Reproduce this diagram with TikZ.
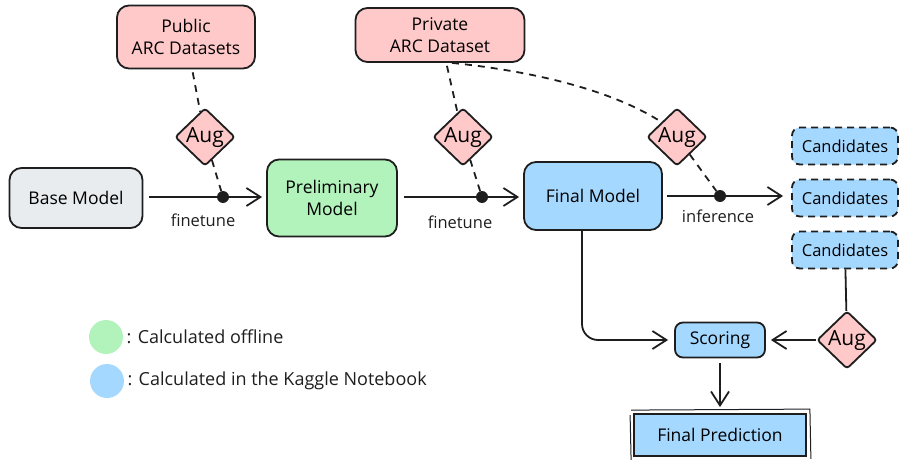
\documentclass[tikz,border=0pt]{standalone}
\usepackage{fontspec}
\setmainfont{Open Sans}
\usetikzlibrary{shapes.geometric,arrows.meta,calc}
\definecolor{ink}{HTML}{1E1E1E}
\definecolor{pinkf}{HTML}{FFC9C9}
\definecolor{greenf}{HTML}{B2F2BB}
\definecolor{bluef}{HTML}{A5D8FF}
\definecolor{grayf}{HTML}{E9ECEF}
\begin{document}
\begin{tikzpicture}[x=1pt,y=-1pt,
  box/.style={draw=ink, line width=1.8pt, rounded corners=12pt, align=center,
    font=\fontsize{17.5}{22}\selectfont, inner sep=0pt},
  candbox/.style={box, dashed, dash pattern=on 7pt off 5pt, rounded corners=8pt, fill=bluef,
    minimum width=106pt, minimum height=37pt, font=\fontsize{16.5}{20}\selectfont},
  augd/.style={diamond, draw=ink, line width=1.8pt, fill=pinkf, rounded corners=3pt,
    minimum width=60pt, minimum height=46pt, inner sep=0pt,
    font=\fontsize{21}{24}\selectfont},
  dotn/.style={circle, fill=ink, inner sep=0pt, minimum size=12pt},
  lbl/.style={font=\fontsize{16.5}{20}\selectfont, text=ink},
  ln/.style={draw=ink, line width=1.8pt},
  dsh/.style={draw=ink, line width=1.8pt, dash pattern=on 7pt off 6pt},
  arr/.style={draw=ink, line width=1.8pt, -{Straight Barb[length=14pt,width=18pt]}},
]
\useasboundingbox (0,0) rectangle (900,460);

% boxes
\node[box, fill=pinkf, minimum width=138pt, minimum height=63pt] (pub) at (186,37) {Public\\ARC Datasets};
\node[box, fill=pinkf, minimum width=169pt, minimum height=54pt] (priv) at (440,35) {Private\\ARC Dataset};
\node[box, fill=grayf, minimum width=133pt, minimum height=60pt] (base) at (76,198) {Base Model};
\node[box, fill=greenf, minimum width=130pt, minimum height=77pt] (prelim) at (332,198) {Preliminary\\Model};
\node[box, fill=bluef, minimum width=138pt, minimum height=68pt] (finalm) at (593,196) {Final Model};
\node[candbox] (cand1) at (845,146) {Candidates};
\node[candbox] (cand2) at (845,198) {Candidates};
\node[candbox] (cand3) at (845,250) {Candidates};
\node[box, fill=bluef, rounded corners=8pt, minimum width=90pt, minimum height=35pt] (scoring) at (720,340) {Scoring};
\node[box, fill=bluef, rounded corners=0pt, minimum width=172pt, minimum height=42pt] (finalpred) at (720,435) {Final Prediction};
\draw[ink, line width=1pt] ([shift={(-2,-3)}]finalpred.north west) -- ([shift={(3,-4)}]finalpred.north east)
  -- ([shift={(4,2)}]finalpred.south east);
\draw[ink, line width=1pt] ([shift={(-3,2)}]finalpred.north west) -- ([shift={(-2,3)}]finalpred.south west);

% diamonds
\node[augd] (aug1) at (205,137) {Aug};
\node[augd] (aug2) at (463,137) {Aug};
\node[augd] (aug3) at (677,137) {Aug};
\node[augd] (aug4) at (847,340) {Aug};

% dots
\node[dotn] (d1) at (223,197) {};
\node[dotn] (d2) at (482,197) {};
\node[dotn] (d3) at (720,196) {};

% main arrows
\draw[arr, shorten <=6pt, shorten >=4pt] (base.east |- d1) -- (prelim.west |- d1);
\draw[arr, shorten <=6pt, shorten >=4pt] (prelim.east |- d2) -- (finalm.west |- d2);
\draw[arr, shorten <=4pt] (finalm.east |- d3) -- ($(d3 -| cand2.west)+(-8,0)$);

% labels
\node[lbl] (l1) at (203,220) {finetune};
\node[lbl] (l2) at (460,222) {finetune};
\node[lbl] (l3) at (718,216) {inference};

% dashed aug links
\draw[dsh, shorten <=3pt] (pub) -- (aug1);
\draw[dsh] (aug1) -- (d1);
\draw[dsh, shorten <=3pt] (priv) -- (aug2);
\draw[dsh] (aug2) -- (d2);
\draw[dsh] ([xshift=12pt]priv.south) .. controls (540,72) and (615,92) .. (aug3.north west);
\draw[dsh] (aug3) -- (d3);

% scoring
\draw[arr, rounded corners=16pt, shorten >=6pt] ([xshift=-11pt]finalm.south) |- (scoring.west);
\draw[ln] (cand3) -- (aug4);
\draw[arr, shorten >=5pt] (aug4) -- (scoring);
\draw[arr, shorten <=5pt, shorten >=6pt] (scoring) -- (finalpred);

% legend
\node[circle, fill=greenf, minimum size=34pt, inner sep=0pt] (lg) at (106,337) {};
\node[circle, fill=bluef, minimum size=34pt, inner sep=0pt] (lb) at (107,381) {};
\node[lbl, anchor=west, font=\fontsize{18}{21}\selectfont] (tg) at (lg.east) {: Calculated offline};
\node[lbl, anchor=west, font=\fontsize{18}{21}\selectfont] (tb) at (lb.east) {: Calculated in the Kaggle Notebook};
\end{tikzpicture}
\end{document}
